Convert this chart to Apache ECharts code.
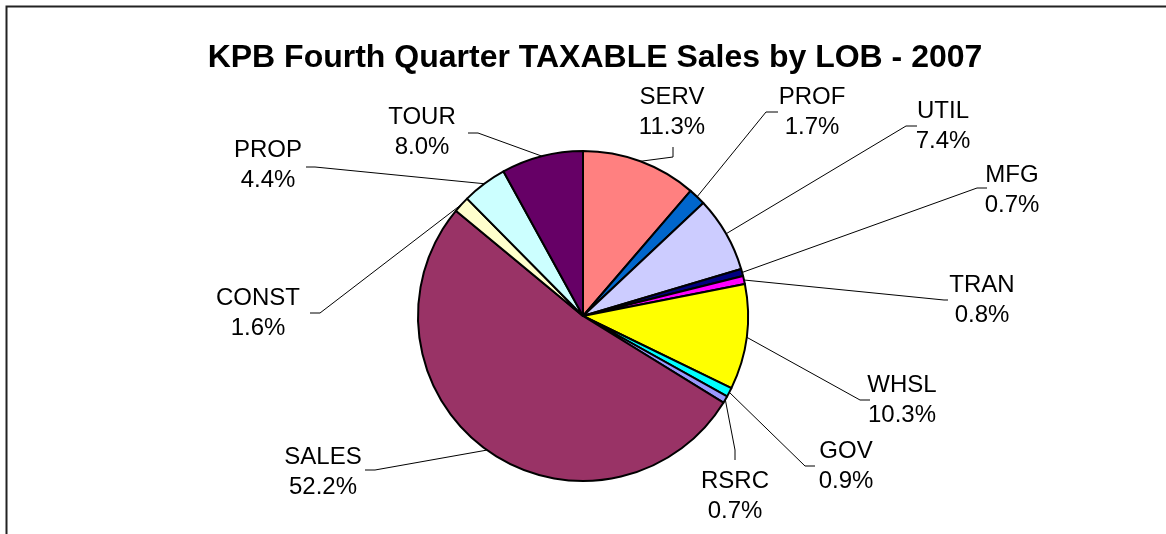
<!DOCTYPE html>
<html>
<head>
<meta charset="utf-8">
<script src="https://cdn.jsdelivr.net/npm/echarts@6/dist/echarts.min.js"></script>
<style>
  html, body { margin: 0; padding: 0; background: #fff; }
  #main { width: 1166px; height: 534px; }
</style>
</head>
<body>
<div id="main"></div>
<script>
var categories = ["SERV", "PROF", "UTIL", "MFG", "TRAN", "WHSL", "GOV", "RSRC", "SALES", "CONST", "PROP", "TOUR"];
var shares = [11.3, 1.7, 7.4, 0.7, 0.8, 10.3, 0.9, 0.7, 52.2, 1.6, 4.4, 8.0];
var colors = ["#FF8080", "#0066CC", "#CCCCFF", "#000080", "#FF00FF", "#FFFF00",
  "#00FFFF", "#9999FF", "#993366", "#FFFFCC", "#CCFFFF", "#660066"];

// where each two-line label sits (centre), and where its leader line bends / ends
var labelSpots = [[672, 112], [812, 112], [943, 126], [1012, 190], [982, 300], [902, 400],
  [846, 466], [735, 496], [323, 472], [258, 313], [268, 165], [422, 132]];
var leaderEnds = [
  [[673, 157], [673, 147]],
  [[766, 112], [778, 112]],
  [[906, 126], [917, 126]],
  [[977, 188], [987, 188]],
  [[944, 300], [948, 300]],
  [[860, 400], [870, 400]],
  [[805, 466], [815, 466]],
  [[735, 450], [735, 460]],
  [[375, 470], [365, 470]],
  [[320, 313], [310, 313]],
  [[315, 167], [306, 167]],
  [[478, 133], [468, 133]]
];

var myChart = echarts.init(document.getElementById("main"));

var pieData = [];
for (var i = 0; i < categories.length; i++) {
  pieData.push({
    name: categories[i],
    value: shares[i],
    itemStyle: { color: colors[i] }
  });
}

var option = {
  backgroundColor: "#fff",
  animation: false,
  title: {
    text: "KPB Fourth Quarter TAXABLE Sales by LOB - 2007",
    left: 590,
    top: 37,
    textAlign: "center",
    textStyle: {
      fontFamily: "Liberation Sans",
      fontSize: 32,
      fontWeight: "bold",
      color: "#000"
    }
  },
  graphic: [
    {
      type: "polyline",
      shape: { points: [[6.5, 540], [6.5, 6.5], [1170, 6.5]] },
      style: { stroke: "#222", lineWidth: 2, fill: null }
    }
  ],
  series: [
    {
      type: "pie",
      center: [583, 316],
      radius: 165,
      startAngle: 90,
      clockwise: true,
      avoidLabelOverlap: false,
      itemStyle: { borderColor: "#000", borderWidth: 2 },
      label: {
        show: true,
        position: "outside",
        fontFamily: "Liberation Sans",
        fontSize: 24,
        lineHeight: 30,
        color: "#000",
        formatter: function (p) {
          return p.name + "\n" + shares[p.dataIndex].toFixed(1) + "%";
        }
      },
      labelLine: {
        show: true,
        smooth: false,
        lineStyle: { color: "#000", width: 1 }
      },
      emphasis: { disabled: true },
      labelLayout: function (params) {
        var idx = params.dataIndex;
        var start = params.labelLinePoints ? params.labelLinePoints[0] : leaderEnds[idx][0];
        return {
          x: labelSpots[idx][0],
          y: labelSpots[idx][1],
          align: "center",
          verticalAlign: "middle",
          labelLinePoints: [start, leaderEnds[idx][0], leaderEnds[idx][1]]
        };
      },
      data: pieData
    }
  ]
};

myChart.setOption(option);
</script>
</body>
</html>
